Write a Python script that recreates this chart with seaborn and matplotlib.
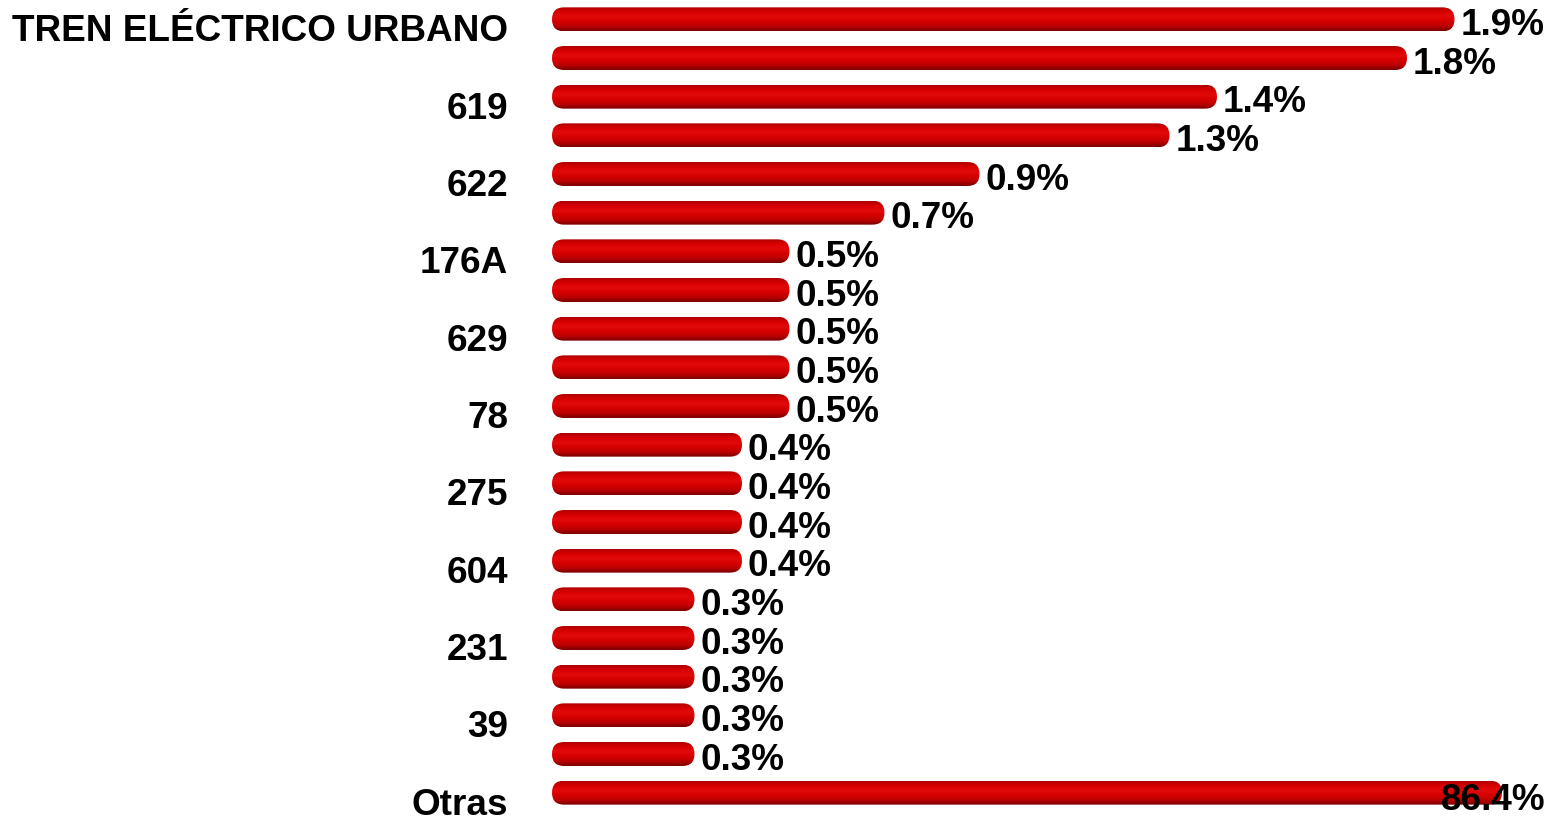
"""Horizontal bar chart of route shares, with cylinder-styled red bars."""

import matplotlib

matplotlib.use("Agg")
import matplotlib.pyplot as plt  # noqa: E402
import numpy as np  # noqa: E402
import pandas as pd  # noqa: E402
import seaborn as sns  # noqa: E402
from matplotlib.colors import LinearSegmentedColormap  # noqa: E402
from matplotlib.patches import FancyBboxPatch  # noqa: E402
from matplotlib.transforms import ScaledTranslation  # noqa: E402

# only every other route name is printed in the original chart
ROUTE_LABELS = ["TREN ELÉCTRICO URBANO", "", "619", "", "622", "", "176A", "",
                "629", "", "78", "", "275", "", "604", "", "231", "", "39", "",
                "Otras"]
SHARES = [1.9, 1.8, 1.4, 1.3, 0.9, 0.7, 0.5, 0.5, 0.5, 0.5, 0.5, 0.4, 0.4,
          0.4, 0.4, 0.3, 0.3, 0.3, 0.3, 0.3, 86.4]
X_MAX = 2.0  # axis is capped, "Otras" gets clipped at the edge
FS = 26.6

sns.set_style("white")
plt.rcParams["font.family"] = ["Liberation Sans", "DejaVu Sans"]
plt.rcParams["font.weight"] = "bold"
plt.rcParams["text.color"] = "black"
plt.rcParams["ytick.color"] = "black"

df = pd.DataFrame({"pos": np.arange(len(SHARES)), "share": SHARES})

fig = plt.figure(figsize=(15.51, 8.19), dpi=100)
ax = fig.add_axes([552 / 1551, 7 / 819, 950 / 1551, 812 / 819])
sns.barplot(data=df, x="share", y="pos", orient="h", color="#d00000",
            width=0.62, ax=ax)

# cylinder look: vertical gradient clipped to a rounded box
cyl = LinearSegmentedColormap.from_list(
    "cyl", ["#b00000", "#d80000", "#e20a0a", "#d40000", "#bc0000", "#780000"])
grad = np.linspace(0, 1, 64).reshape(-1, 1)
px_x = X_MAX / 950  # data units per pixel along x
px_y = len(SHARES) / 812
for patch in list(ax.patches):
    x0, y0 = patch.get_x(), patch.get_y()
    w, h = min(patch.get_width(), X_MAX), patch.get_height()
    patch.set_visible(False)
    box = FancyBboxPatch((x0, y0), w, h,
                         boxstyle=f"round,pad=0,rounding_size={12 * px_x}",
                         mutation_aspect=px_y / px_x,
                         facecolor="none", edgecolor="none")
    ax.add_patch(box)
    img = ax.imshow(grad, cmap=cyl, extent=(x0, x0 + w, y0 + h, y0),
                    aspect="auto", origin="upper", interpolation="bicubic")
    img.set_clip_path(box)

ax.set_xlim(0, X_MAX)
ax.set_ylim(len(SHARES) - 0.5, -0.5)

for i, v in enumerate(SHARES):
    if v > X_MAX:
        ax.annotate(f"{v}%", xy=(X_MAX, i), xytext=(-6.5, -2.5),
                    textcoords="offset points", ha="center",
                    va="center_baseline", fontsize=FS, fontweight="bold")
    else:
        ax.annotate(f"{v}%", xy=(v, i), xytext=(4.3, -1.5),
                    textcoords="offset points", ha="left",
                    va="center_baseline", fontsize=FS, fontweight="bold")

ax.set_yticks(range(len(SHARES)), ROUTE_LABELS)
ax.set_xticks([])
ax.set_xlabel(""); ax.set_ylabel("")
ax.tick_params(axis="y", length=0, pad=31.7, labelsize=FS)
shift = ScaledTranslation(0, -8.5 / 100, fig.dpi_scale_trans)
for lab in ax.get_yticklabels():
    lab.set_fontweight("bold")
    lab.set_va("center_baseline")
    lab.set_transform(lab.get_transform() + shift)
sns.despine(ax=ax, left=True, bottom=True)

fig.savefig("out.png", dpi=100)
plt.close(fig)
